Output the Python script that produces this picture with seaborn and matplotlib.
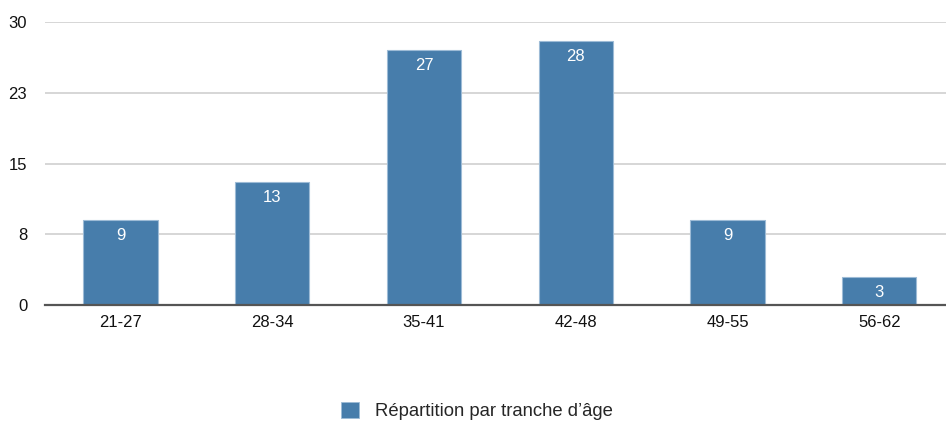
import matplotlib
matplotlib.use("Agg")
import matplotlib.pyplot as plt
from matplotlib.patches import Patch
import seaborn as sns
import pandas as pd

# Age brackets and headcounts
tranches = ["21-27", "28-34", "35-41", "42-48", "49-55", "56-62"]
effectifs = [9, 13, 27, 28, 9, 3]
y_ticks = [0, 7.5, 15, 22.5, 30]
y_tick_labels = ["0", "8", "15", "23", "30"]
serie = "Répartition par tranche d’âge"

bar_color = "#477dab"

sns.set_theme(style="white")
plt.rcParams["font.family"] = ["Liberation Sans", "DejaVu Sans"]

df = pd.DataFrame({"tranche": tranches, "effectif": effectifs})

fig = plt.figure(figsize=(9.46, 4.22), dpi=100)
ax = fig.add_axes([44.6 / 946, 117 / 422, (946 - 44.6) / 946, 283 / 422])

sns.barplot(data=df, x="tranche", y="effectif", color=bar_color, width=0.49,
            saturation=1, edgecolor="#9dbbd6", linewidth=0.8, ax=ax, zorder=3)

ax.set_xlim(-0.5, 5.44)
ax.set_ylim(0, 30)
ax.set_yticks(y_ticks)
ax.set_yticklabels(y_tick_labels)
ax.set_xlabel("")
ax.set_ylabel("")

ax.grid(axis="y", color="#d0d0d0", linewidth=1.2, zorder=0)
ax.grid(axis="x", visible=False)
for side in ["top", "right", "left"]:
    ax.spines[side].set_visible(False)
ax.spines["bottom"].set_color("#555555")
ax.spines["bottom"].set_linewidth(1.6)
ax.spines["bottom"].set_zorder(4)

ax.tick_params(axis="y", length=0, pad=12.5, labelsize=12, labelcolor="#111111")
ax.tick_params(axis="x", length=0, pad=7, labelsize=12, labelcolor="#111111")

# Value labels inside the top of each bar
for container in ax.containers:
    ax.bar_label(container, labels=[str(v) for v in effectifs], padding=-16.5,
                 color="white", fontsize=12, zorder=5)

handle = Patch(facecolor=bar_color, edgecolor="#9dbbd6", linewidth=0.6)
fig.legend([handle], [serie], loc="center", bbox_to_anchor=(477 / 946, 1 - 411 / 422),
           frameon=False, fontsize=13.3, handlelength=0.95, handleheight=0.95,
           handletextpad=0.85)

fig.savefig("out.png", dpi=100)
